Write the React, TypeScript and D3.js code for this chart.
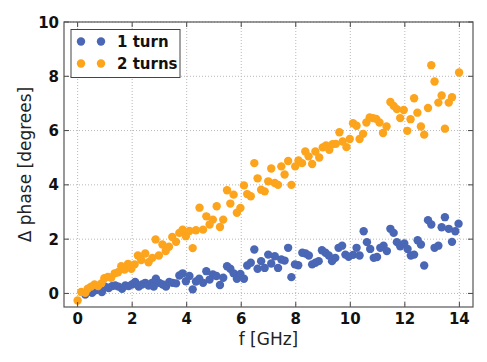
import React, { useEffect, useRef } from "react";
import * as d3 from "d3";

// frequency [GHz] and phase difference [degrees]
const freq1 = [0.28, 0.4, 0.53, 0.65, 0.77, 0.89, 1.01, 1.14, 1.26, 1.38, 1.5, 1.63, 1.75, 1.87, 1.99, 2.11, 2.24, 2.36, 2.48, 2.6, 2.73, 2.79, 2.87, 2.99, 3.12, 3.24, 3.36, 3.48, 3.61, 3.73, 3.85, 3.97, 4.1, 4.22, 4.34, 4.46, 4.6, 4.72, 4.84, 4.96, 5.09, 5.22, 5.34, 5.48, 5.6, 5.72, 5.84, 5.97, 6.1, 6.22, 6.35, 6.48, 6.6, 6.73, 6.86, 6.99, 7.1, 7.23, 7.35, 7.47, 7.59, 7.72, 7.84, 7.97, 8.09, 8.24, 8.36, 8.48, 8.6, 8.72, 8.84, 8.96, 9.09, 9.21, 9.33, 9.45, 9.57, 9.7, 9.82, 9.94, 10.1, 10.23, 10.34, 10.49, 10.61, 10.73, 10.86, 10.98, 11.1, 11.22, 11.34, 11.47, 11.59, 11.71, 11.83, 11.98, 12.1, 12.22, 12.34, 12.47, 12.59, 12.71, 12.85, 12.97, 13.09, 13.23, 13.35, 13.47, 13.61, 13.73, 13.85, 13.97];
const phase1 = [-0.04, 0.07, 0.02, 0.12, 0.17, 0.05, 0.25, 0.2, 0.27, 0.29, 0.25, 0.17, 0.29, 0.27, 0.33, 0.42, 0.25, 0.33, 0.39, 0.29, 0.39, 0.25, 0.54, 0.39, 0.33, 0.25, 0.42, 0.39, 0.37, 0.66, 0.74, 0.45, 0.64, 0.15, 0.44, 0.54, 0.39, 0.82, 0.51, 0.7, 0.64, 0.31, 0.58, 1.0, 0.91, 0.74, 0.54, 0.72, 0.54, 1.03, 1.13, 1.62, 0.91, 1.19, 0.94, 1.43, 1.1, 1.37, 0.94, 1.25, 1.21, 1.68, 0.6, 1.07, 1.04, 1.5, 1.47, 1.4, 1.07, 1.13, 1.19, 1.59, 1.5, 1.4, 1.19, 1.31, 1.68, 1.76, 1.43, 1.35, 1.42, 1.68, 1.4, 2.29, 1.89, 1.64, 1.31, 1.34, 1.68, 1.76, 1.56, 2.38, 2.23, 1.89, 1.74, 1.84, 1.64, 1.4, 1.43, 1.96, 1.8, 1.03, 2.7, 2.54, 1.68, 1.76, 2.44, 2.81, 2.38, 1.9, 2.29, 2.57];

const freq2 = [0, 0.13, 0.28, 0.37, 0.49, 0.62, 0.75, 0.87, 0.98, 1.11, 1.23, 1.36, 1.48, 1.6, 1.72, 1.85, 1.97, 2.09, 2.21, 2.33, 2.48, 2.6, 2.74, 2.86, 2.98, 3.11, 3.23, 3.35, 3.47, 3.61, 3.73, 3.85, 3.97, 4.1, 4.22, 4.34, 4.47, 4.6, 4.72, 4.84, 4.96, 5.1, 5.22, 5.34, 5.48, 5.6, 5.72, 5.84, 5.97, 6.1, 6.22, 6.35, 6.48, 6.6, 6.73, 6.86, 6.99, 7.1, 7.23, 7.35, 7.47, 7.59, 7.72, 7.84, 7.98, 8.1, 8.23, 8.35, 8.47, 8.6, 8.72, 8.86, 8.99, 9.11, 9.23, 9.35, 9.47, 9.6, 9.72, 9.86, 9.98, 10.1, 10.23, 10.34, 10.47, 10.59, 10.71, 10.83, 10.95, 11.07, 11.2, 11.33, 11.47, 11.59, 11.71, 11.83, 11.96, 12.09, 12.21, 12.34, 12.46, 12.59, 12.71, 12.85, 12.97, 13.09, 13.23, 13.35, 13.47, 13.61, 13.73, 13.99];
const phase2 = [-0.26, 0.05, 0.02, 0.17, 0.25, 0.33, 0.27, 0.37, 0.56, 0.61, 0.58, 0.74, 0.78, 1.0, 0.88, 1.09, 0.91, 1.07, 1.4, 1.23, 1.47, 1.15, 1.31, 1.99, 1.4, 1.8, 1.56, 1.72, 2.08, 1.9, 2.23, 2.35, 2.11, 2.3, 1.67, 2.33, 3.16, 2.35, 2.84, 2.54, 2.72, 3.21, 2.45, 2.72, 3.8, 3.31, 3.64, 2.97, 3.15, 3.98, 3.66, 3.58, 4.8, 4.24, 3.82, 3.76, 4.13, 4.6, 4.07, 4.0, 4.68, 4.38, 4.88, 4.0, 4.68, 4.9, 4.8, 5.23, 5.05, 4.77, 5.23, 5.01, 5.38, 5.45, 5.29, 5.5, 5.51, 5.94, 5.6, 5.39, 5.69, 6.27, 6.18, 5.69, 5.88, 6.3, 6.48, 6.46, 6.43, 6.3, 5.91, 6.15, 7.05, 6.91, 6.79, 6.46, 6.76, 5.99, 6.42, 7.19, 6.66, 6.15, 5.85, 6.83, 8.41, 7.81, 7.03, 7.29, 6.07, 7.03, 7.23, 8.14];

const xTicks = [0, 2, 4, 6, 8, 10, 12, 14];
const yTicks = [0, 2, 4, 6, 8, 10];
const seriesNames = ["1 turn", "2 turns"];
const colors = ["#4a67b6", "#fda41d"];

const App: React.FC = () => {
  const ref = useRef<SVGSVGElement | null>(null);

  const width = 487,
    height = 362,
    margin = { top: 22, right: 14, bottom: 55, left: 64 };

  useEffect(() => {
    const svg = d3.select(ref.current);
    svg.selectAll("*").remove();

    const x = d3
      .scaleLinear()
      .domain([-0.5, 14.5])
      .range([margin.left, width - margin.right]);
    const y = d3
      .scaleLinear()
      .domain([-0.5, 10])
      .range([height - margin.bottom, margin.top]);

    const font = "'DejaVu Sans', sans-serif";
    const x0 = margin.left,
      x1 = width - margin.right,
      y0 = height - margin.bottom,
      y1 = margin.top;

    // grid
    const grid = svg.append("g").attr("stroke", "#b8b8b8").attr("stroke-width", 1).attr("stroke-dasharray", "1,2");
    xTicks.forEach((t) => {
      grid.append("line").attr("x1", x(t)).attr("x2", x(t)).attr("y1", y1).attr("y2", y0);
    });
    yTicks.forEach((t) => {
      grid.append("line").attr("x1", x0).attr("x2", x1).attr("y1", y(t)).attr("y2", y(t));
    });

    // points
    const sets = [
      freq1.map((f, i) => [f, phase1[i]]),
      freq2.map((f, i) => [f, phase2[i]]),
    ];
    sets.forEach((pts, k) => {
      svg
        .append("g")
        .selectAll("circle")
        .data(pts)
        .join("circle")
        .attr("cx", (d) => x(d[0]))
        .attr("cy", (d) => y(d[1]))
        .attr("r", 4.2)
        .attr("fill", colors[k]);
    });

    // ticks inside on all sides
    const tk = svg.append("g").attr("stroke", "#444").attr("stroke-width", 1);
    xTicks.forEach((t) => {
      tk.append("line").attr("x1", x(t)).attr("x2", x(t)).attr("y1", y0).attr("y2", y0 - 5);
      tk.append("line").attr("x1", x(t)).attr("x2", x(t)).attr("y1", y1).attr("y2", y1 + 5);
    });
    yTicks.forEach((t) => {
      tk.append("line").attr("x1", x0).attr("x2", x0 + 5).attr("y1", y(t)).attr("y2", y(t));
      tk.append("line").attr("x1", x1).attr("x2", x1 - 5).attr("y1", y(t)).attr("y2", y(t));
    });

    // frame
    svg
      .append("rect")
      .attr("x", x0)
      .attr("y", y1)
      .attr("width", x1 - x0)
      .attr("height", y0 - y1)
      .attr("fill", "none")
      .attr("stroke", "#555")
      .attr("stroke-width", 1.2);

    // tick labels
    svg
      .append("g")
      .selectAll("text")
      .data(xTicks)
      .join("text")
      .attr("x", (d) => x(d))
      .attr("y", y0 + 17)
      .attr("text-anchor", "middle")
      .attr("font-family", font)
      .attr("font-weight", "bold")
      .attr("font-size", 15)
      .attr("fill", "#111")
      .text((d) => d);
    svg
      .append("g")
      .selectAll("text")
      .data(yTicks)
      .join("text")
      .attr("x", x0 - 5)
      .attr("y", (d) => y(d) + 5.5)
      .attr("text-anchor", "end")
      .attr("font-family", font)
      .attr("font-weight", "bold")
      .attr("font-size", 15)
      .attr("fill", "#111")
      .text((d) => d);

    // axis titles
    svg
      .append("text")
      .attr("x", (x0 + x1) / 2)
      .attr("y", 345)
      .attr("text-anchor", "middle")
      .attr("font-family", font)
      .attr("font-size", 17)
      .attr("fill", "#222")
      .text("f [GHz]");
    svg
      .append("text")
      .attr("transform", `translate(31,${(y0 + y1) / 2}) rotate(-90)`)
      .attr("text-anchor", "middle")
      .attr("font-family", font)
      .attr("font-size", 17)
      .attr("fill", "#222")
      .text("Δ phase [degrees]");

    // legend
    const lg = svg.append("g");
    lg.append("rect")
      .attr("x", 71)
      .attr("y", 29.5)
      .attr("width", 109)
      .attr("height", 48)
      .attr("fill", "white")
      .attr("stroke", "#444")
      .attr("stroke-width", 1);
    seriesNames.forEach((name, k) => {
      const cy = 41.5 + k * 22;
      [81, 101].forEach((cx) => {
        lg.append("circle").attr("cx", cx).attr("cy", cy).attr("r", 4.2).attr("fill", colors[k]);
      });
      lg.append("text")
        .attr("x", 117)
        .attr("y", cy + 5.5)
        .attr("font-family", font)
        .attr("font-weight", "bold")
        .attr("font-size", 15)
        .attr("fill", "#111")
        .text(name);
    });
  }, []);

  return (
    <div style={{ position: "absolute", left: 0, top: 0 }}>
      <svg width={width} height={height} ref={ref} style={{ display: "block", background: "white" }}></svg>
    </div>
  );
};

export default App;
